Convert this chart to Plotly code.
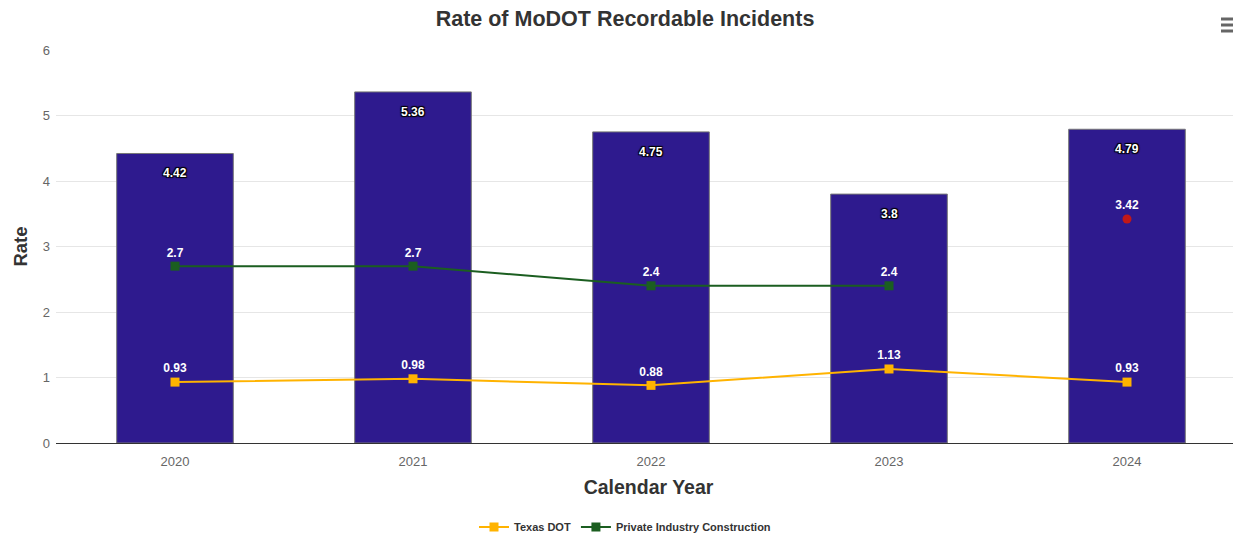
import plotly.graph_objects as go

years = ["2020", "2021", "2022", "2023", "2024"]
modot_rate = [4.42, 5.36, 4.75, 3.8, 4.79]
texas_dot = [0.93, 0.98, 0.88, 1.13, 0.93]
private_years = ["2020", "2021", "2022", "2023"]
private_construction = [2.7, 2.7, 2.4, 2.4]
highlight_years = ["2024"]
highlight_value = [3.42]

FONT = "Liberation Sans, Arial, sans-serif"
shadow = "1px 1px 1px #000, -1px -1px 1px #000, 1px -1px 1px #000, -1px 1px 1px #000"

# page body has an 8px margin; figure coordinates are offset by it
OFF = 8
W, H = 1241 - OFF, 538 - OFF
L, T, B = 56 - OFF, 50 - OFF, 538 - 443
PW, PH = W - L, H - T - B

fig = go.Figure()
fig.add_trace(go.Bar(
    x=years, y=modot_rate, name="MoDOT",
    marker=dict(color="#2E1A8E", line=dict(color="#777777", width=1)),
    width=0.49,
    showlegend=False, hoverinfo="x+y",
))
fig.add_trace(go.Scatter(
    x=years, y=texas_dot, name="Texas DOT", mode="lines+markers+text",
    line=dict(color="#FFB300", width=2),
    marker=dict(symbol="square", size=9, color="#FFB300"),
    text=[f"{v:g}" for v in texas_dot], textposition="top center",
    textfont=dict(color="#ffffff", size=12, family=FONT, weight="bold"),
))
fig.add_trace(go.Scatter(
    x=private_years, y=private_construction, name="Private Industry Construction",
    mode="lines+markers+text",
    line=dict(color="#1B5E20", width=2),
    marker=dict(symbol="square", size=9, color="#1B5E20"),
    text=[f"{v:g}" for v in private_construction], textposition="top center",
    textfont=dict(color="#ffffff", size=12, family=FONT, weight="bold"),
))
fig.add_trace(go.Scatter(
    x=highlight_years, y=highlight_value, name="Current",
    mode="markers+text",
    marker=dict(symbol="circle", size=9, color="#C21818"),
    text=[f"{v:g}" for v in highlight_value], textposition="top center",
    textfont=dict(color="#ffffff", size=12, family=FONT, weight="bold"),
    showlegend=False,
))

# bar value labels, inside near the top of each bar (category index positions)
for i, v in enumerate(modot_rate):
    fig.add_annotation(x=i, y=v, xref="x", yref="y", text=f"<b>{v:g}</b>", showarrow=False,
                       yanchor="middle", yshift=-20,
                       font=dict(color="#ffffff", size=12, family=FONT, shadow=shadow))

def px_x(x):
    return (x - OFF - L) / PW

def px_y(y):
    return (H - B - (y - OFF)) / PH

# hamburger menu icon
shapes = []
for yy in [19, 25, 31]:
    shapes.append(dict(type="line", xref="paper", yref="paper",
                       x0=px_x(1221), x1=px_x(1238),
                       y0=px_y(yy), y1=px_y(yy),
                       line=dict(color="#666666", width=3)))

fig.update_layout(
    width=W, height=H,
    margin=dict(l=L, r=0, t=T, b=B, autoexpand=False),
    paper_bgcolor="#ffffff", plot_bgcolor="#ffffff",
    font=dict(family=FONT, color="#666666", size=12),
    title=dict(text="<b>Rate of MoDOT Recordable Incidents</b>",
               font=dict(size=21.5, color="#333333", family=FONT),
               x=(625 - OFF) / W, xanchor="center", y=1 - 3 / H, yanchor="top"),
    xaxis=dict(type="category", range=[-0.5, 4.479],
               showgrid=False, showline=True, linecolor="#333333", linewidth=1,
               ticks="", tickfont=dict(size=13, color="#666666"), ticklabelstandoff=6,
               title=dict(text="<b>Calendar Year</b>", font=dict(size=19.5, color="#333333"), standoff=12)),
    yaxis=dict(range=[0, 6], dtick=1, showgrid=True, gridcolor="#e6e6e6", gridwidth=1,
               zeroline=False, showline=False, ticks="",
               tickfont=dict(size=13, color="#666666"), ticklabelstandoff=5,
               title=dict(text="<b>Rate</b>", font=dict(size=18.5, color="#333333"), standoff=10)),
    legend=dict(orientation="h", x=px_x(625), xanchor="center",
                y=px_y(527), yanchor="middle",
                font=dict(size=11, color="#333333", weight="bold")),
    shapes=shapes,
)

fig.write_html("out.html")
